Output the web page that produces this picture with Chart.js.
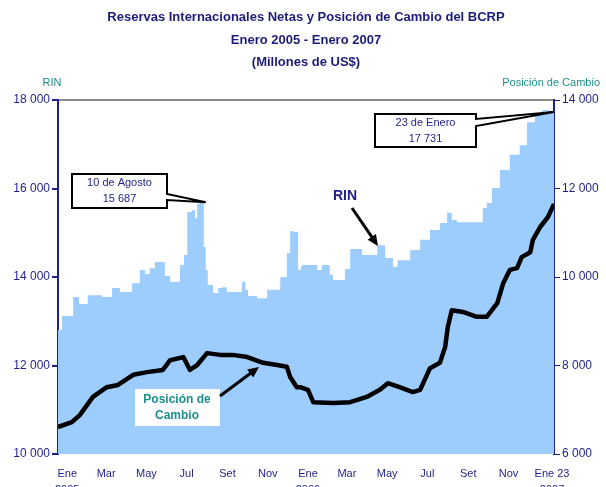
<!DOCTYPE html>
<html lang="es">
<head>
    <meta charset="UTF-8">
    <title>Reservas Internacionales Netas y Posición de Cambio del BCRP</title>
    <style>
        html, body { margin: 0; padding: 0; background: #fff; }
        .chart-box { width: 606px; height: 487px; }
    </style>
</head>
<body>
    <div class="chart-box">
        <canvas id="rinChart"></canvas>
    </div>

    <script src="https://cdn.jsdelivr.net/npm/chart.js"></script>
    <script>
        // RIN (millones de US$)
        const rinDates = [
            '2005-01-01', '2005-01-07', '2005-01-24', '2005-02-02', '2005-02-15', '2005-03-09', '2005-03-24',
            '2005-04-05', '2005-04-23', '2005-05-05', '2005-05-13', '2005-05-20', '2005-05-28', '2005-06-12',
            '2005-06-20', '2005-07-05', '2005-07-11', '2005-07-16', '2005-07-23', '2005-07-28', '2005-07-31',
            '2005-08-04', '2005-08-10', '2005-08-13', '2005-08-16', '2005-08-24', '2005-09-01', '2005-09-07',
            '2005-09-14', '2005-10-07', '2005-10-12', '2005-10-16', '2005-10-30', '2005-11-14', '2005-12-04',
            '2005-12-14', '2005-12-19', '2005-12-23', '2005-12-31', '2006-01-04', '2006-01-06', '2006-01-29',
            '2006-02-05', '2006-02-17', '2006-02-22', '2006-03-12', '2006-03-20', '2006-04-07', '2006-04-30',
            '2006-05-12', '2006-05-24', '2006-05-31', '2006-06-19', '2006-07-04', '2006-07-19', '2006-08-03',
            '2006-08-14', '2006-08-21', '2006-08-29', '2006-10-07', '2006-10-13', '2006-10-21', '2006-11-02',
            '2006-11-17', '2006-12-02', '2006-12-13', '2006-12-25', '2007-01-05', '2007-01-17', '2007-01-23'
        ];
        const rinValues = [
            12620, 12800, 13120, 13550, 13390, 13590, 13550,
            13750, 13660, 13860, 14160, 14070, 14200, 14340,
            14020, 13890, 14270, 14500, 15470, 15510, 15330,
            15650, 15687, 14680, 14160, 13820, 13640, 13750,
            13770, 13660, 13890, 13710, 13570, 13520, 13710,
            14000, 14540, 15040, 15020, 14160, 14230, 14270,
            14160, 14270, 14050, 13930, 14180, 14630, 14500,
            14720, 14430, 14230, 14380, 14610, 14840, 15060,
            15220, 15450, 15290, 15240, 15560, 15670, 16010,
            16420, 16760, 16980, 17500, 17660, 17770, 17731
        ];

        // Posicion de cambio (millones de US$), eje derecho
        const pcDates = [
            '2005-01-01', '2005-01-22', '2005-02-03', '2005-02-23', '2005-03-16', '2005-04-02', '2005-04-25',
            '2005-05-16', '2005-06-09', '2005-06-20', '2005-07-10', '2005-07-20', '2005-07-31', '2005-08-15',
            '2005-09-04', '2005-09-23', '2005-10-15', '2005-11-08', '2005-11-29', '2005-12-14', '2005-12-19',
            '2005-12-29', '2006-01-03', '2006-01-15', '2006-01-23', '2006-02-22', '2006-03-20', '2006-04-14',
            '2006-05-04', '2006-05-16', '2006-06-03', '2006-06-23', '2006-07-04', '2006-07-19', '2006-08-03',
            '2006-08-11', '2006-08-15', '2006-08-21', '2006-09-07', '2006-09-28', '2006-10-13', '2006-10-29',
            '2006-11-07', '2006-11-17', '2006-11-28', '2006-12-05', '2006-12-18', '2006-12-22', '2007-01-02',
            '2007-01-14', '2007-01-21', '2007-01-23'
        ];
        const pcValues = [
            6610, 6720, 6880, 7290, 7510, 7560, 7790,
            7850, 7900, 8120, 8190, 7900, 8010, 8280,
            8240, 8240, 8190, 8060, 8010, 7970, 7740,
            7510, 7510, 7450, 7170, 7150, 7170, 7290,
            7450, 7600, 7510, 7400, 7450, 7940, 8060,
            8420, 8870, 9250, 9210, 9100, 9100, 9410,
            9860, 10160, 10200, 10450, 10560, 10840, 11130,
            11360, 11580, 11650
        ];

        const tickDates = [
            '2005-01-15', '2005-03-15', '2005-05-15', '2005-07-15', '2005-09-15', '2005-11-15',
            '2006-01-15', '2006-03-15', '2006-05-15', '2006-07-15', '2006-09-15', '2006-11-15', '2007-01-20'
        ];
        const tickLabels = [
            ['Ene', '2005'], 'Mar', 'May', 'Jul', 'Set', 'Nov',
            ['Ene', '2006'], 'Mar', 'May', 'Jul', 'Set', 'Nov', ['Ene 23', '2007']
        ];

        const navy = '#1f1f8a';
        const teal = '#1d8f8a';
        const fontFam = '"Liberation Sans Narrow", "Liberation Sans", Arial, sans-serif';

        const day0 = Date.parse('2005-01-01');
        const dayOf = s => (Date.parse(s) - day0) / 86400000;
        const fmt = v => String(v).replace(/\B(?=(\d{3})+(?!\d))/g, ' ');

        // callout con globo (caja + cuña hacia el punto)
        function callout(c, box, tip, wedge, lines) {
            c.save();
            c.beginPath();
            c.moveTo(box.l, box.t);
            c.lineTo(box.r, box.t);
            c.lineTo(box.r, wedge[0]);
            c.lineTo(tip.x, tip.y);
            c.lineTo(box.r, wedge[1]);
            c.lineTo(box.r, box.b);
            c.lineTo(box.l, box.b);
            c.closePath();
            c.fillStyle = '#fff';
            c.fill();
            c.lineWidth = 2;
            c.strokeStyle = '#000';
            c.stroke();
            c.fillStyle = navy;
            c.font = '11px ' + fontFam;
            c.textAlign = 'center';
            c.textBaseline = 'middle';
            const cx = (box.l + box.r) / 2;
            c.fillText(lines[0], cx, box.t + 9);
            c.fillText(lines[1], cx, box.t + 25);
            c.restore();
        }

        function arrow(c, x1, y1, x2, y2) {
            const a = Math.atan2(y2 - y1, x2 - x1);
            c.save();
            c.strokeStyle = '#000';
            c.fillStyle = '#000';
            c.lineWidth = 3;
            c.beginPath();
            c.moveTo(x1, y1);
            c.lineTo(x2 - 8 * Math.cos(a), y2 - 8 * Math.sin(a));
            c.stroke();
            c.beginPath();
            c.moveTo(x2, y2);
            c.lineTo(x2 - 11 * Math.cos(a) + 5 * Math.sin(a), y2 - 11 * Math.sin(a) - 5 * Math.cos(a));
            c.lineTo(x2 - 11 * Math.cos(a) - 5 * Math.sin(a), y2 - 11 * Math.sin(a) + 5 * Math.cos(a));
            c.closePath();
            c.fill();
            c.restore();
        }

        const textPlugin = {
            id: 'textos',
            afterDraw(chart) {
                const c = chart.ctx;
                const xs = chart.scales.x, ys = chart.scales.y;
                c.save();
                c.fillStyle = '#1c1c78';
                c.font = 'bold 13px ' + fontFam;
                c.textAlign = 'center';
                c.textBaseline = 'middle';
                c.fillText('Reservas Internacionales Netas y Posición de Cambio del BCRP', 306, 17);
                c.fillText('Enero 2005 - Enero 2007', 306, 40);
                c.fillText('(Millones de US$)', 306, 62);

                c.fillStyle = teal;
                c.font = '11px ' + fontFam;
                c.fillText('RIN', 52, 83);
                c.textAlign = 'right';
                c.fillText('Posición de Cambio', 600, 83);
                c.restore();

                // 10 de Agosto
                const iAug = rinDates.indexOf('2005-08-10');
                callout(c, { l: 72, r: 167, t: 174, b: 208 },
                    { x: xs.getPixelForValue(dayOf(rinDates[iAug])) + 2, y: ys.getPixelForValue(rinValues[iAug]) },
                    [194, 200], ['10 de Agosto', fmt(rinValues[iAug])]);

                // 23 de Enero
                const iEnd = rinValues.length - 1;
                callout(c, { l: 375, r: 476, t: 114, b: 147 },
                    { x: xs.getPixelForValue(dayOf(rinDates[iEnd])), y: ys.getPixelForValue(rinValues[iEnd]) },
                    [119, 126], ['23 de Enero', fmt(rinValues[iEnd])]);

                // RIN
                c.save();
                c.fillStyle = navy;
                c.font = 'bold 14px "Liberation Sans", Arial, sans-serif';
                c.textAlign = 'center';
                c.textBaseline = 'middle';
                c.fillText('RIN', 345, 196);
                c.restore();
                arrow(c, 352, 208, 378, 246);

                // Posicion de cambio
                c.save();
                c.fillStyle = '#fff';
                c.fillRect(135, 389, 85, 37);
                c.fillStyle = teal;
                c.font = 'bold 12px "Liberation Sans", Arial, sans-serif';
                c.textAlign = 'center';
                c.textBaseline = 'middle';
                c.fillText('Posición de', 177, 400);
                c.fillText('Cambio', 177, 416);
                c.restore();
                arrow(c, 220, 396, 259, 367);
            }
        };

        const ctx = document.getElementById('rinChart').getContext('2d');
        const rinChart = new Chart(ctx, {
            type: 'line',
            data: {
                datasets: [{
                    label: 'Posición de Cambio',
                    data: pcDates.map((d, i) => ({ x: dayOf(d), y: pcValues[i] })),
                    yAxisID: 'y2',
                    borderColor: '#000',
                    borderWidth: 4.5,
                    borderJoinStyle: 'round',
                    pointRadius: 0,
                    tension: 0,
                    fill: false,
                    order: 1
                }, {
                    label: 'RIN',
                    data: rinDates.map((d, i) => ({ x: dayOf(d), y: rinValues[i] })),
                    yAxisID: 'y',
                    stepped: 'after',
                    borderWidth: 0,
                    borderColor: 'rgba(0,0,0,0)',
                    backgroundColor: '#9dcdfd',
                    pointRadius: 0,
                    fill: 'start',
                    order: 2
                }]
            },
            options: {
                responsive: true,
                maintainAspectRatio: false,
                animation: false,
                layout: { padding: { top: 100, left: 0, right: 0, bottom: 0 } },
                plugins: {
                    legend: { display: false },
                    title: { display: false },
                    tooltip: { enabled: false }
                },
                scales: {
                    x: {
                        type: 'linear',
                        min: 0,
                        max: dayOf('2007-01-23'),
                        afterBuildTicks: s => { s.ticks = tickDates.map(d => ({ value: dayOf(d) })); },
                        afterFit: s => { s.height = 33; },
                        grid: { display: false },
                        border: { display: false },
                        ticks: {
                            autoSkip: false,
                            maxRotation: 0,
                            padding: 4,
                            color: navy,
                            font: { family: fontFam, size: 11, lineHeight: 1.45 },
                            callback: (v, i) => tickLabels[i]
                        }
                    },
                    y: {
                        position: 'left',
                        min: 10000,
                        max: 18000,
                        afterFit: s => { s.width = 58; },
                        border: { display: true, color: navy, width: 2 },
                        grid: {
                            drawOnChartArea: true,
                            color: c => c.tick && c.tick.value === 18000 ? '#8c8c8c' : 'rgba(0,0,0,0)',
                            lineWidth: 2,
                            tickColor: navy,
                            tickLength: 6
                        },
                        ticks: {
                            stepSize: 2000,
                            padding: 2,
                            color: navy,
                            font: { family: fontFam, size: 12 },
                            callback: v => fmt(v)
                        }
                    },
                    y2: {
                        position: 'right',
                        min: 6000,
                        max: 14000,
                        afterFit: s => { s.width = 52; },
                        border: { display: true, color: navy, width: 2 },
                        grid: { drawOnChartArea: false, tickColor: navy, tickLength: 6 },
                        ticks: {
                            stepSize: 2000,
                            padding: 2,
                            color: navy,
                            font: { family: fontFam, size: 12 },
                            callback: v => fmt(v)
                        }
                    }
                }
            },
            plugins: [textPlugin]
        });
    </script>
</body>
</html>
